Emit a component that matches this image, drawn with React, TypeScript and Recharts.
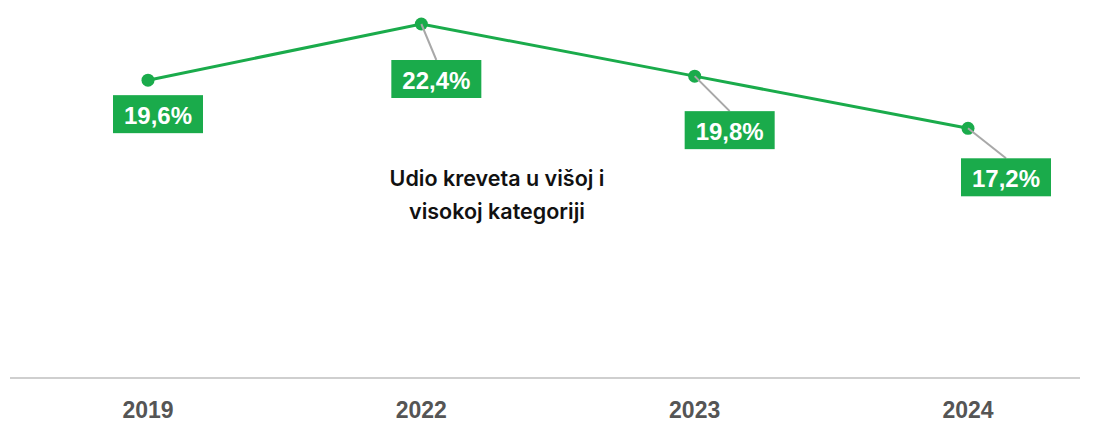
import { LineChart, Line, XAxis, YAxis, LabelList } from 'recharts'

const years = ['2019', '2022', '2023', '2024']
const shares = [19.6, 22.4, 19.8, 17.2]

// label box placement relative to each point (layout only)
const labelOffsets = [
  { dx: 10, dy: 34 },
  { dx: 15, dy: 55 },
  { dx: 35, dy: 54 },
  { dx: 38, dy: 49 },
]

const GREEN = '#1aab4b'

const data = years.map((year, i) => ({ year, share: shares[i] }))

const fmt = (v: number) => v.toFixed(1).replace('.', ',') + '%'

const ValueLabel = ({ x, y, value, index }: any) => {
  const off = labelOffsets[index] ?? { dx: 0, dy: 40 }
  const w = 90
  const h = 38
  const cx = x + off.dx
  const cy = y + off.dy
  return (
    <g>
      {off.dy > 40 && (
        <line x1={x} y1={y} x2={cx} y2={cy - h / 2} stroke="#a8a8a8" strokeWidth={2} />
      )}
      <rect x={cx - w / 2} y={cy - h / 2} width={w} height={h} fill={GREEN} />
      <text
        x={cx}
        y={cy + 1}
        textAnchor="middle"
        dominantBaseline="central"
        fill="#fff"
        fontSize={24}
        fontWeight={700}
        fontFamily="'Liberation Sans', Arial, sans-serif"
      >
        {fmt(value)}
      </text>
    </g>
  )
}

const YearTick = ({ x, y, payload }: any) => (
  <text
    x={x}
    y={y + 24}
    textAnchor="middle"
    dominantBaseline="central"
    fill="#555"
    fontSize={23}
    fontWeight={700}
    fontFamily="'Liberation Sans', Arial, sans-serif"
  >
    {payload.value}
  </text>
)

export default function App() {
  return (
    <div style={{ position: 'absolute', left: 0, top: 0, width: 1096, height: 422, background: '#fff' }}>
      <LineChart
        width={1096}
        height={422}
        data={data}
        margin={{ top: 24, right: 16, left: 10, bottom: 0 }}
      >
        <XAxis
          dataKey="year"
          height={44}
          padding={{ left: 138, right: 112 }}
          axisLine={{ stroke: '#cfcfcf', strokeWidth: 2 }}
          tickLine={false}
          tick={<YearTick />}
        />
        <YAxis hide domain={[4.75, 22.4]} />
        <Line
          dataKey="share"
          stroke={GREEN}
          strokeWidth={3}
          dot={{ r: 6.5, fill: GREEN, stroke: GREEN, strokeWidth: 0 }}
          isAnimationActive={false}
        >
          <LabelList dataKey="share" content={<ValueLabel />} />
        </Line>
      </LineChart>
      <div
        style={{
          position: 'absolute',
          left: 347,
          top: 162,
          width: 300,
          textAlign: 'center',
          fontFamily: 'Inter, Roboto, sans-serif',
          fontWeight: 600,
          fontSize: 21.5,
          lineHeight: '33px',
          color: '#111',
        }}
      >
        Udio kreveta u višoj i
        <br />
        visokoj kategoriji
      </div>
    </div>
  )
}
